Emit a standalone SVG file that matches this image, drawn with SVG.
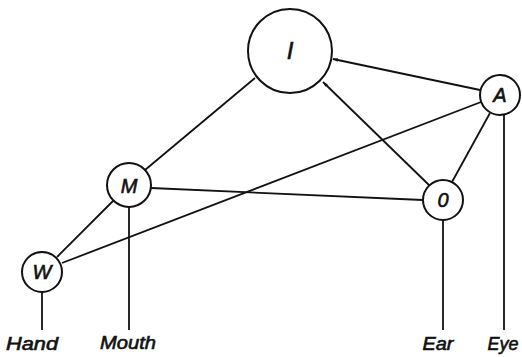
<svg xmlns="http://www.w3.org/2000/svg" width="522" height="357" viewBox="0 0 522 357">
<style>
.n{fill:#fff;stroke:#111;stroke-width:2}
.c line{stroke:#111;stroke-width:1.8}
.t{font-family:"Liberation Sans","DejaVu Sans",sans-serif;font-style:italic;fill:#111;stroke:#111;stroke-width:0.6;text-anchor:middle}
.lt{font-size:20px}
.lb{font-size:18px}
</style>
<defs>
<marker id="ah" viewBox="0 0 10 10" refX="10" refY="5" markerWidth="5" markerHeight="5" orient="auto" markerUnits="userSpaceOnUse">
<path d="M0,1.5 L10,5 L0,8.5 z" fill="#111"/>
</marker>
</defs>
<rect width="522" height="357" fill="#fff"/>
<g class="c" id="connectors">
<line x1="480" y1="90" x2="333" y2="59" marker-end="url(#ah)"/>
<line x1="430" y1="186" x2="323" y2="82" marker-end="url(#ah)"/>
<line x1="255" y1="78" x2="145" y2="170"/>
<line x1="481" y1="102" x2="62" y2="263"/>
<line x1="490" y1="113" x2="452" y2="182"/>
<line x1="151" y1="188" x2="423" y2="200"/>
<line x1="114" y1="200" x2="57" y2="257"/>
<line x1="42" y1="292" x2="42" y2="330"/>
<line x1="129" y1="207" x2="129" y2="330"/>
<line x1="443" y1="220" x2="443" y2="330"/>
<line x1="504" y1="115" x2="504" y2="330"/>
</g>
<g id="node-I"><circle class="n" cx="290" cy="51" r="42"/><text class="t" x="290" y="59" font-size="24">I</text></g>
<g id="node-A"><circle class="n" cx="500" cy="95" r="20"/><text class="t lt" x="500" y="102">A</text></g>
<g id="node-M"><circle class="n" cx="129" cy="185" r="22"/><text class="t lt" x="129" y="193">M</text></g>
<g id="node-O"><circle class="n" cx="443" cy="200" r="20"/><text class="t lt" x="443" y="207">0</text></g>
<g id="node-W"><circle class="n" cx="42" cy="272" r="20"/><text class="t lt" x="42" y="279">W</text></g>
<g id="labels">
<text class="t lb" x="32" y="350" textLength="52" lengthAdjust="spacingAndGlyphs">Hand</text>
<text class="t lb" x="128" y="349" textLength="56" lengthAdjust="spacingAndGlyphs">Mouth</text>
<text class="t lb" x="438" y="350" textLength="31" lengthAdjust="spacingAndGlyphs">Ear</text>
<text class="t lb" x="503" y="350" textLength="31" lengthAdjust="spacingAndGlyphs">Eye</text>
</g>
</svg>
